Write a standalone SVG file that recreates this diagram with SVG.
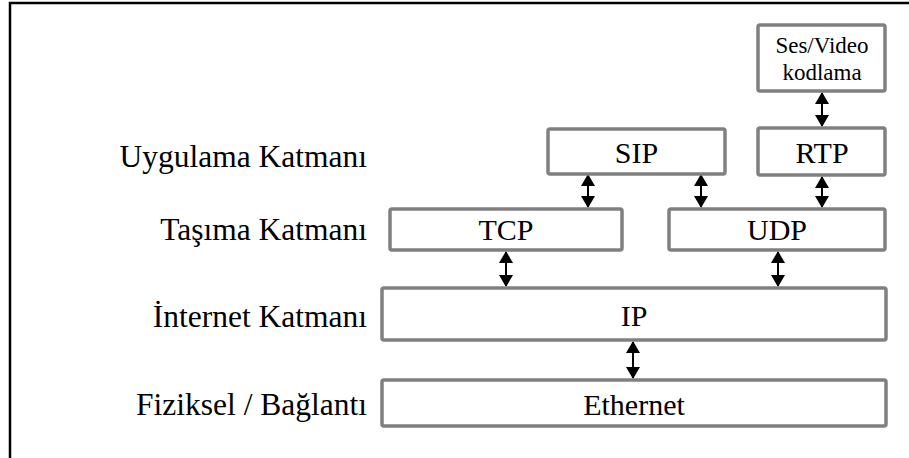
<svg xmlns="http://www.w3.org/2000/svg" width="909" height="458" viewBox="0 0 909 458">
<style>
.box{fill:#fff;stroke:#808080;stroke-width:3.5}
text{font-family:'Liberation Serif','Times New Roman',Tinos,'DejaVu Serif',serif;fill:#000}
.t{text-anchor:middle}
.lbl{text-anchor:end;font-size:31.5px}
.c{stroke:#000;stroke-width:2;fill:none;marker-start:url(#ah);marker-end:url(#ah)}
</style>
<defs>
<marker id="ah" markerUnits="userSpaceOnUse" viewBox="0 0 12 14" refX="11" refY="7" markerWidth="12" markerHeight="14" orient="auto-start-reverse">
<path d="M0,0 L12,7 L0,14 Z" fill="#000"/>
</marker>
</defs>
<rect width="909" height="458" fill="#fff"/>
<rect x="10" y="3" width="1000" height="600" fill="none" stroke="#000" stroke-width="2.5"/>
<g id="labels">
<text class="lbl" x="367" y="167">Uygulama Katmanı</text>
<text class="lbl" x="367" y="240">Taşıma Katmanı</text>
<text class="lbl" x="367" y="327">İnternet Katmanı</text>
<text class="lbl" x="367" y="415">Fiziksel / Bağlantı</text>
</g>
<g id="connectors">
<line class="c" x1="822" y1="93" x2="822" y2="126"/>
<line class="c" x1="822" y1="177" x2="822" y2="207"/>
<line class="c" x1="588" y1="175" x2="588" y2="207"/>
<line class="c" x1="701" y1="175" x2="701" y2="207"/>
<line class="c" x1="506" y1="252" x2="506" y2="286"/>
<line class="c" x1="778" y1="252" x2="778" y2="286"/>
<line class="c" x1="633" y1="342" x2="633" y2="378"/>
</g>
<g id="sesvideo">
<rect class="box" x="758" y="25" width="127" height="66" rx="2"/>
<text class="t" x="822" y="53" font-size="23">Ses/Video</text>
<text class="t" x="822" y="80" font-size="23">kodlama</text>
</g>
<g id="rtp">
<rect class="box" x="758" y="128" width="127" height="47" rx="2"/>
<text class="t" x="822" y="163" font-size="30">RTP</text>
</g>
<g id="sip">
<rect class="box" x="548" y="129" width="177" height="45" rx="2"/>
<text class="t" x="636.5" y="163" font-size="30">SIP</text>
</g>
<g id="tcp">
<rect class="box" x="390" y="209" width="232" height="41" rx="2"/>
<text class="t" x="506" y="240" font-size="30">TCP</text>
</g>
<g id="udp">
<rect class="box" x="669" y="209" width="216" height="41" rx="2"/>
<text class="t" x="777" y="240" font-size="30">UDP</text>
</g>
<g id="ip">
<rect class="box" x="382" y="288" width="504" height="52" rx="2"/>
<text class="t" x="634" y="326" font-size="30">IP</text>
</g>
<g id="ethernet">
<rect class="box" x="382" y="380" width="504" height="46" rx="2"/>
<text class="t" x="634" y="415" font-size="30">Ethernet</text>
</g>
</svg>
